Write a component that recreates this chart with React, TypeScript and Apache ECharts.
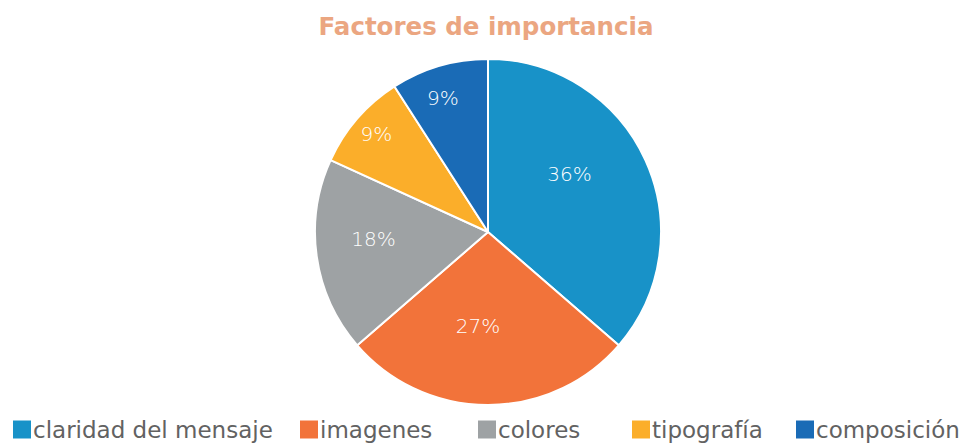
import React, { useEffect, useRef } from "react";
import * as echarts from "echarts";

const categories = ["claridad del mensaje", "imagenes", "colores", "tipografía", "composición"];
const values = [4, 3, 2, 1, 1];
const colors = ["#1892C8", "#F2733A", "#9EA2A4", "#FBAE2A", "#1A6BB6"];
const legendLefts = [11, 298, 476, 630, 794];
const labelOffsets: [number, number][] = [[0, -21], [-10, 4], [-26, -6], [-44, -39], [-20, -48]];

export default function App() {
  const ref = useRef<HTMLDivElement>(null);
  useEffect(() => {
    document.body.style.margin = "0";
    const chart = echarts.init(ref.current!, null, { renderer: "svg" });
    const font = "'DejaVu Sans', sans-serif";
    chart.setOption({
      animation: false,
      title: {
        text: "Factores de importancia",
        left: "center",
        top: 9,
        textStyle: { fontFamily: font, fontSize: 24.5, fontWeight: "bold", color: "#EBA681" },
      },
      legend: categories.map((c, i) => ({
        data: [c],
        left: legendLefts[i],
        top: 418,
        icon: "rect",
        itemWidth: 20,
        itemHeight: 20,
        itemGap: 0,
        padding: 0,
        selectedMode: false,
        textStyle: { fontFamily: font, fontSize: 23, color: "#626262", padding: [2, 0, 0, -4] },
      })),
      series: [
        {
          type: "pie",
          center: [488, 232],
          radius: 173,
          startAngle: 90,
          clockwise: true,
          itemStyle: { borderColor: "#fff", borderWidth: 2 },
          label: {
            show: true,
            position: "inside",
            formatter: (p: any) => Math.round(p.percent) + "%",
            color: "#fff",
            fontFamily: "'DejaVu Sans ExtraLight', 'DejaVu Sans', sans-serif",
            fontSize: 20,
            fontWeight: 200,
          },
          labelLine: { show: false },
          emphasis: { disabled: true },
          data: categories.map((c, i) => ({
            name: c,
            value: values[i],
            itemStyle: { color: colors[i] },
            label: { offset: labelOffsets[i] },
          })),
        },
      ],
    });
    return () => chart.dispose();
  }, []);
  return <div ref={ref} style={{ width: 972, height: 443 }} />;
}
